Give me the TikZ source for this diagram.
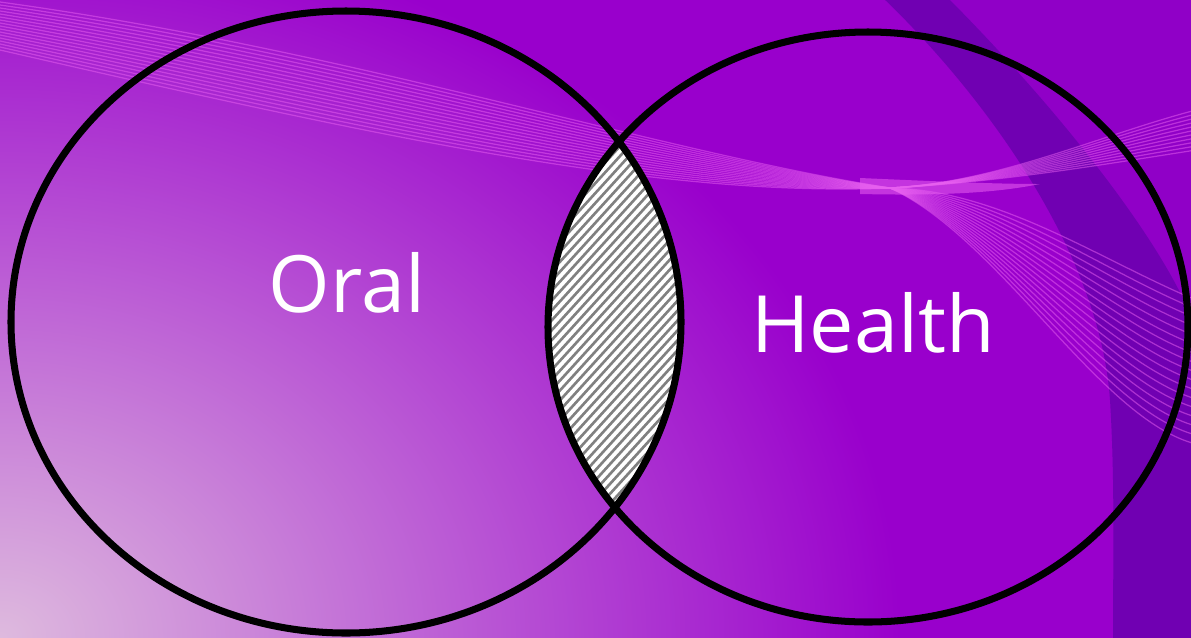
\documentclass[tikz,border=0pt]{standalone}
\usepackage{fontspec}
\setmainfont{Open Sans}
\definecolor{bgpurple}{RGB}{153,0,204}
\definecolor{lilac}{RGB}{222,186,222}
\definecolor{deepviolet}{RGB}{96,0,168}
\definecolor{ribbon}{RGB}{232,96,240}
\begin{document}
\begin{tikzpicture}[
  x=0.02cm, y=-0.02cm,
  ring/.style={draw=black, line width=4pt},
  setname/.style={text=white, font=\fontsize{45}{54}\selectfont, inner sep=0pt, anchor=base},
  hatchline/.style={draw=gray, line width=1.5pt},
  wave/.style={draw=ribbon, opacity=0.5, line width=0.7pt}
]
\useasboundingbox (0,0) rectangle (1191,637);
\fill[bgpurple] (-5,-5) rectangle (1196,642);
\begin{scope}
\clip (-5,-5) rectangle (1196,642);
\shade[inner color=lilac, outer color=bgpurple] (0,637) ellipse [x radius=900, y radius=720];
\fill[bgpurple!85!deepviolet] (880,-5) .. controls (980,90) and (1100,250) .. (1110,400)
  .. controls (1115,480) and (1113,560) .. (1113,642) -- (1196,642) -- (1196,-5) -- cycle;
\fill[deepviolet, opacity=0.65] (880,-5) .. controls (980,90) and (1100,250) .. (1110,400)
  .. controls (1115,480) and (1113,560) .. (1113,642) -- (1196,642) -- (1196,330)
  .. controls (1170,250) and (1060,110) .. (945,-5) -- cycle;
\foreach \i in {0,...,16}
  \draw[wave] (0,2+3*\i) .. controls (350,50+5*\i) and (650,150+3*\i) .. (890,188)
    .. controls (1000,190+3*\i) and (1100,260+10*\i) .. (1196,300+9*\i);
\foreach \i in {0,...,10}
  \draw[wave] (890,188) .. controls (1000,182) and (1100,165-3*\i) .. (1196,150-4*\i);
\fill[ribbon, opacity=0.55] (860,178) .. controls (950,182) and (1000,184) .. (1040,184)
  .. controls (1000,192) and (950,196) .. (860,194) -- cycle;
\end{scope}
\begin{scope}
\clip (346,322) ellipse [x radius=335, y radius=311];
\clip (868,327) ellipse [x radius=320, y radius=295];
\fill[white] (540,130) rectangle (700,520);
\foreach \k in {100,109,...,730}
  \draw[hatchline] (\k,540) -- ++(400,-440);
\end{scope}
\draw[ring] (346,322) ellipse [x radius=335, y radius=311];
\draw[ring] (868,327) ellipse [x radius=320, y radius=295];
\node[setname] (oral) at (347,312) {Oral};
\node[setname] (health) at (873,352) {Health};
\end{tikzpicture}
\end{document}
